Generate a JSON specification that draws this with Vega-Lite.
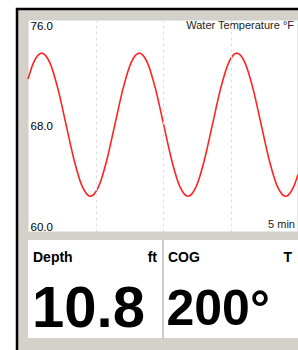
{
  "$schema": "https://vega.github.io/schema/vega-lite/v6.json",
  "width": 285,
  "height": 345,
  "autosize": {"type": "none"},
  "padding": {"left": 17, "top": 9, "right": -4, "bottom": -4},
  "background": "#ffffff",
  "view": {"fill": "#d4d1cb", "stroke": "#000000", "strokeWidth": 2.5},
  "config": {"font": "Liberation Sans"},
  "datasets": {
    "temp": [
      {"t": 0, "v": 71.54},
      {"t": 6.17, "v": 72.78},
      {"t": 15.2, "v": 73.5},
      {"t": 24.23, "v": 72.78},
      {"t": 33.27, "v": 70.8},
      {"t": 42.3, "v": 68.1},
      {"t": 51.33, "v": 65.4},
      {"t": 60.37, "v": 63.42},
      {"t": 69.4, "v": 62.7},
      {"t": 78.43, "v": 63.42},
      {"t": 87.47, "v": 65.4},
      {"t": 96.5, "v": 68.1},
      {"t": 105.53, "v": 70.8},
      {"t": 114.57, "v": 72.78},
      {"t": 123.6, "v": 73.5},
      {"t": 132.63, "v": 72.78},
      {"t": 141.67, "v": 70.8},
      {"t": 150.7, "v": 68.1},
      {"t": 159.73, "v": 65.4},
      {"t": 168.77, "v": 63.42},
      {"t": 177.8, "v": 62.7},
      {"t": 186.83, "v": 63.42},
      {"t": 195.87, "v": 65.4},
      {"t": 204.9, "v": 68.1},
      {"t": 213.93, "v": 70.8},
      {"t": 222.97, "v": 72.78},
      {"t": 232.0, "v": 73.5},
      {"t": 241.03, "v": 72.78},
      {"t": 250.07, "v": 70.8},
      {"t": 259.1, "v": 68.1},
      {"t": 268.13, "v": 65.4},
      {"t": 277.17, "v": 63.42},
      {"t": 286.2, "v": 62.7},
      {"t": 295.23, "v": 63.42},
      {"t": 300, "v": 64.34}
    ],
    "panels": [
      {"panel": "Depth", "unit": "ft", "value": "10.8"},
      {"panel": "COG", "unit": "T", "value": "200°"}
    ],
    "notes": [
      {"heading": "Water Temperature °F", "span": "5 min", "t0": 0, "t1": 300, "lo": 60, "hi": 76}
    ]
  },
  "resolve": {
    "scale": {"x": "independent", "y": "independent"},
    "axis": {"x": "independent", "y": "independent"}
  },
  "layer": [
    {
      "layer": [
        {
          "data": {"name": "notes"},
          "mark": {"type": "rect", "fill": "#ffffff", "stroke": "#cfcfcf", "strokeWidth": 1},
          "encoding": {
            "x": {"field": "t0", "type": "quantitative"},
            "x2": {"field": "t1"},
            "y": {"field": "lo", "type": "quantitative"},
            "y2": {"field": "hi"}
          }
        },
        {
          "data": {"name": "temp"},
          "mark": {"type": "line", "color": "#ff2424", "strokeWidth": 1.6, "interpolate": "monotone", "zindex": 2},
          "encoding": {
            "x": {
              "field": "t",
              "type": "quantitative",
              "scale": {"domain": [0, 300], "range": [11, 281], "nice": false, "zero": false},
              "axis": {
                "orient": "top", "values": [75, 150, 225], "labels": false, "ticks": false,
                "domain": false, "grid": true, "gridColor": "#e0e0e0", "gridDash": [3, 3],
                "gridWidth": 1, "title": null, "zindex": 1
              }
            },
            "y": {
              "field": "v",
              "type": "quantitative",
              "scale": {"domain": [60, 76], "range": [223, 11], "nice": false, "zero": false},
              "axis": {
                "orient": "left", "values": [60, 68, 76], "format": ".1f", "labelAlign": "left",
                "labelPadding": -13, "tickSize": 0, "ticks": false, "domain": false, "grid": false,
                "labelFlush": true, "labelFontSize": 11.5, "labelColor": "#000000", "title": null, "zindex": 1
              }
            }
          }
        },
        {
          "data": {"name": "notes"},
          "mark": {"type": "text", "align": "right", "baseline": "top", "dx": -4, "dy": 0, "fontSize": 11, "color": "#222222", "zindex": 2},
          "encoding": {
            "x": {"field": "t1", "type": "quantitative"},
            "y": {"field": "hi", "type": "quantitative"},
            "text": {"field": "heading"}
          }
        },
        {
          "data": {"name": "notes"},
          "mark": {"type": "text", "align": "right", "baseline": "alphabetic", "dx": -3, "dy": -4, "fontSize": 11, "color": "#222222", "zindex": 2},
          "encoding": {
            "x": {"field": "t1", "type": "quantitative"},
            "y": {"field": "lo", "type": "quantitative"},
            "text": {"field": "span"}
          }
        }
      ]
    },
    {
      "data": {"name": "panels"},
      "encoding": {
        "x": {
          "field": "panel",
          "type": "nominal",
          "scale": {"type": "band", "domain": ["Depth", "COG"], "range": [11, 281], "paddingInner": 0, "paddingOuter": 0},
          "axis": null
        }
      },
      "layer": [
        {
          "mark": {"type": "rect", "fill": "#ffffff"},
          "encoding": {
            "y": {"datum": 0, "type": "quantitative", "scale": {"domain": [0, 1], "range": [329, 231], "nice": false, "zero": false}, "axis": null},
            "y2": {"datum": 1}
          }
        },
        {
          "transform": [{"filter": "datum.panel == 'COG'"}],
          "mark": {"type": "rule", "color": "#9a9a9a", "strokeWidth": 1},
          "encoding": {
            "x": {"field": "panel", "type": "nominal", "bandPosition": 0},
            "y": {"datum": 0, "type": "quantitative"},
            "y2": {"datum": 1}
          }
        },
        {
          "mark": {"type": "text", "align": "left", "baseline": "alphabetic", "dx": 5, "fontSize": 14, "fontWeight": "bold", "color": "#000000"},
          "encoding": {
            "x": {"field": "panel", "type": "nominal", "bandPosition": 0},
            "y": {"datum": 0.776, "type": "quantitative"},
            "text": {"field": "panel"}
          }
        },
        {
          "mark": {"type": "text", "align": "right", "baseline": "alphabetic", "dx": -6, "fontSize": 14, "fontWeight": "bold", "color": "#000000"},
          "encoding": {
            "x": {"field": "panel", "type": "nominal", "bandPosition": 1},
            "y": {"datum": 0.776, "type": "quantitative"},
            "text": {"field": "unit"}
          }
        },
        {
          "transform": [{"filter": "datum.panel == 'Depth'"}],
          "mark": {"type": "text", "align": "left", "baseline": "alphabetic", "dx": 4, "fontSize": 58, "fontWeight": "bold", "color": "#000000"},
          "encoding": {
            "x": {"field": "panel", "type": "nominal", "bandPosition": 0},
            "y": {"datum": 0.112, "type": "quantitative"},
            "text": {"field": "value"}
          }
        },
        {
          "transform": [{"filter": "datum.panel == 'COG'"}],
          "mark": {"type": "text", "align": "left", "baseline": "alphabetic", "dx": 3.5, "fontSize": 50, "fontWeight": "bold", "color": "#000000"},
          "encoding": {
            "x": {"field": "panel", "type": "nominal", "bandPosition": 0},
            "y": {"datum": 0.133, "type": "quantitative"},
            "text": {"field": "value"}
          }
        }
      ]
    }
  ]
}
